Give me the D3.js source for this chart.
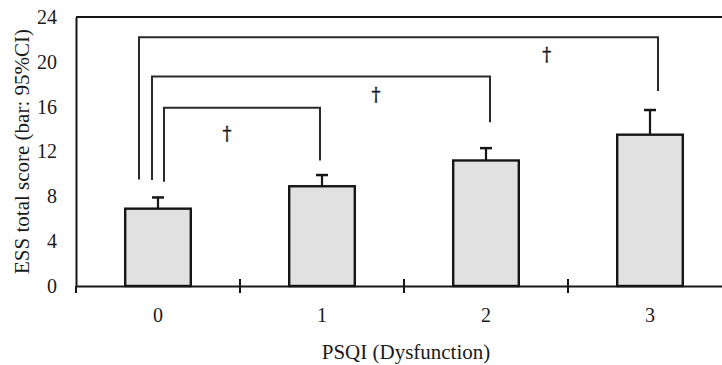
<!DOCTYPE html>
<html>
<head>
<meta charset="utf-8">
<script src="https://cdn.jsdelivr.net/npm/d3@7"></script>
<style>
  body { margin: 0; background: #fff; }
  svg { display: block; }
  text { font-family: "Liberation Serif", "Times New Roman", serif; fill: #1a1a1a; }
</style>
</head>
<body>
<div id="chart"></div>
<script>
// PSQI dysfunction score categories
const categories = ["0", "1", "2", "3"];
// ESS total score, mean and upper 95% CI
const means = [6.9, 8.9, 11.2, 13.5];
const ciUpper = [7.9, 9.9, 12.3, 15.7];
const yTicks = [0, 4, 8, 12, 16, 20, 24];

// significance brackets (category pairs), in score units
const pairs = [[0, 1], [0, 2], [0, 3]];
const bracketLevel = [15.9, 18.7, 22.2];
const leftLegEnd = [9.3, 9.45, 9.5];
const rightLegEnd = [11.2, 14.6, 17.4];
const markPos = [0.42, 1.33, 2.37];   // position along category axis
const markLevel = [13.5, 17.0, 20.6];
const markText = ["\u2020", "\u2020", "\u2020"];

const W = 722, H = 365;
const margin = { top: 17, left: 76 };
const plotW = 656, plotH = 269;
const serif = '"Liberation Serif", "Times New Roman", serif';

const svg = d3.select("#chart").append("svg")
  .attr("width", W)
  .attr("height", H);

const g = svg.append("g")
  .attr("transform", `translate(${margin.left},${margin.top})`);

const x = d3.scaleBand()
  .domain(categories)
  .range([0, plotW])
  .paddingInner(0.6)
  .paddingOuter(0.3);

const y = d3.scaleLinear()
  .domain([0, 24])
  .range([plotH, 0]);

// continuous position along categories (for annotation marks)
const xc = d3.scaleLinear()
  .domain([0, categories.length - 1])
  .range([x(categories[0]) + x.bandwidth() / 2, x(categories[categories.length - 1]) + x.bandwidth() / 2]);

const ink = "#161616";

// top frame line
g.append("line")
  .attr("x1", 0).attr("x2", plotW)
  .attr("y1", y(24)).attr("y2", y(24))
  .attr("stroke", ink).attr("stroke-width", 2);

// y axis
const yAxis = g.append("g")
  .call(d3.axisLeft(y).tickValues(yTicks).tickSize(0).tickPadding(19));
yAxis.select(".domain").attr("stroke", ink).attr("stroke-width", 2);
yAxis.selectAll("text")
  .style("font-family", serif)
  .style("font-size", "20px")
  .attr("fill", "#1a1a1a");

// x axis
const xAxis = g.append("g")
  .attr("transform", `translate(0,${plotH})`)
  .call(d3.axisBottom(x).tickSize(0).tickPadding(22).tickSizeOuter(0));
xAxis.select(".domain").attr("stroke", ink).attr("stroke-width", 2);
xAxis.selectAll("text")
  .style("font-family", serif)
  .style("font-size", "20px")
  .attr("fill", "#1a1a1a");

// separator ticks between categories
const step = x.step();
const boundaries = categories.map((c, i) => i === 0 ? 0 : x(c) - step * x.paddingInner() / 2);
g.append("g").selectAll("line")
  .data(boundaries)
  .join("line")
  .attr("x1", d => d).attr("x2", d => d)
  .attr("y1", (d, i) => i === 0 ? plotH : plotH - 7)
  .attr("y2", plotH + 7)
  .attr("stroke", ink).attr("stroke-width", 2);

// error bars (upper CI)
const err = g.append("g");
err.selectAll("line.stem")
  .data(categories)
  .join("line")
  .attr("class", "stem")
  .attr("x1", d => x(d) + x.bandwidth() / 2)
  .attr("x2", d => x(d) + x.bandwidth() / 2)
  .attr("y1", (d, i) => y(means[i]))
  .attr("y2", (d, i) => y(ciUpper[i]))
  .attr("stroke", ink).attr("stroke-width", 2.2);
err.selectAll("line.cap")
  .data(categories)
  .join("line")
  .attr("class", "cap")
  .attr("x1", d => x(d) + x.bandwidth() / 2 - 6)
  .attr("x2", d => x(d) + x.bandwidth() / 2 + 6)
  .attr("y1", (d, i) => y(ciUpper[i]))
  .attr("y2", (d, i) => y(ciUpper[i]))
  .attr("stroke", ink).attr("stroke-width", 2.5);

// bars
g.append("g").selectAll("rect")
  .data(categories)
  .join("rect")
  .attr("x", d => x(d))
  .attr("y", (d, i) => y(means[i]))
  .attr("width", x.bandwidth())
  .attr("height", (d, i) => y(0) - y(means[i]))
  .attr("fill", "#e1e1e1")
  .attr("stroke", ink)
  .attr("stroke-width", 2.4);

// significance brackets
const leftOffset = [6, -6, -19];
const rightOffset = [-2, 4, 8];
const center = i => x(categories[i]) + x.bandwidth() / 2;
g.append("g").selectAll("path")
  .data(pairs)
  .join("path")
  .attr("d", (p, i) => {
    const xl = center(p[0]) + leftOffset[i];
    const xr = center(p[1]) + rightOffset[i];
    return `M${xl},${y(leftLegEnd[i])}V${y(bracketLevel[i])}H${xr}V${y(rightLegEnd[i])}`;
  })
  .attr("fill", "none")
  .attr("stroke", "#2a2a2a")
  .attr("stroke-width", 2);

g.append("g").selectAll("text")
  .data(markText)
  .join("text")
  .attr("x", (d, i) => xc(markPos[i]))
  .attr("y", (d, i) => y(markLevel[i]))
  .attr("dy", "0.3em")
  .attr("text-anchor", "middle")
  .style("font-family", '"DejaVu Serif", serif')
  .style("font-size", "18px")
  .attr("fill", "#222")
  .attr("stroke", "#222")
  .attr("stroke-width", 0.4)
  .text(d => d);

// axis titles
svg.append("text")
  .attr("x", margin.left + plotW / 2 + 2)
  .attr("y", 359)
  .attr("text-anchor", "middle")
  .style("font-size", "21px")
  .text("PSQI (Dysfunction)");

svg.append("text")
  .attr("transform", `translate(29,${margin.top + plotH / 2}) rotate(-90)`)
  .attr("text-anchor", "middle")
  .style("font-size", "21px")
  .text("ESS total score (bar: 95%CI)");
</script>
</body>
</html>
